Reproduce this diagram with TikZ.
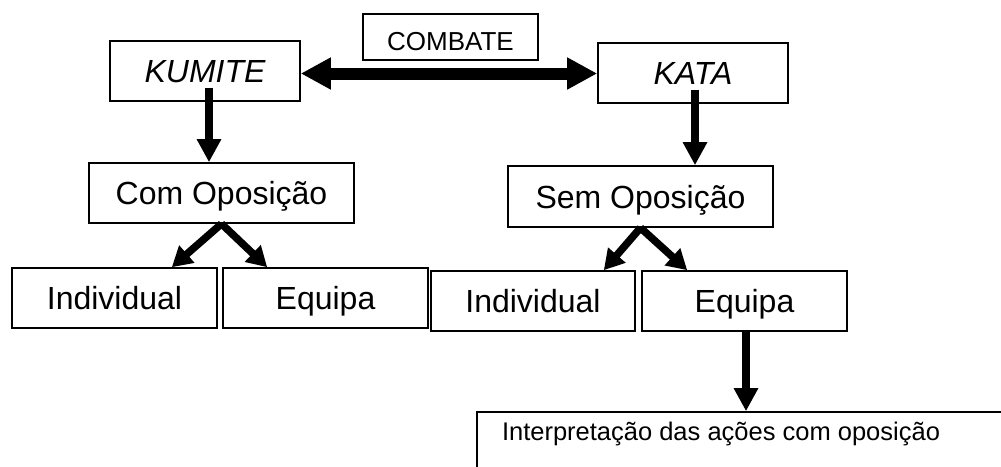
\documentclass[tikz,border=0pt]{standalone}
\usepackage{fontspec}
\setmainfont{Liberation Sans}
\usetikzlibrary{arrows.meta,calc}
\tikzset{
  box/.style={draw=black,line width=1.6pt,fill=white,inner sep=0pt,
    text height=23pt,text depth=0pt,font=\fontsize{32}{38}\selectfont},
  arr/.style={line width=8pt,-{Triangle[length=23pt,width=23pt]}},
  diag/.style={line width=7.5pt,-{Triangle[length=20pt,width=22pt]}},
  dbl/.style={line width=12pt,{Triangle[length=30pt,width=30pt]}-{Triangle[length=30pt,width=30pt]}}
}
\begin{document}
\begin{tikzpicture}[x=1pt,y=-1pt]
\useasboundingbox (0,0) rectangle (1001,466);
\clip (0,0) rectangle (1001,466);
\fill[white] (0,0) rectangle (1001,466);

\node[box,minimum width=175pt,minimum height=46pt,font=\fontsize{26}{31}\selectfont,text height=27.6pt,text depth=0pt] (combate) at (450.5,37) {COMBATE};
\node[box,minimum width=190pt,minimum height=60pt] (kumite) at (205,71) {\itshape KUMITE};
\node[box,minimum width=190pt,minimum height=60pt] (kata) at (693,73) {\itshape KATA};
\node[box,minimum width=265pt,minimum height=60pt] (comop) at (221.5,193) {Com Oposição};
\node[box,minimum width=265pt,minimum height=61pt] (semop) at (640.5,196.5) {Sem Oposição};
\node[box,minimum width=205pt,minimum height=60pt] (ind1) at (114.5,298) {Individual};
\node[box,minimum width=205pt,minimum height=60pt] (equ1) at (325.5,298) {Equipa};
\node[box,minimum width=204pt,minimum height=60pt] (ind2) at (533,301) {Individual};
\node[box,minimum width=205pt,minimum height=60pt] (equ2) at (744.5,301) {Equipa};
\node[box,minimum width=543pt,minimum height=68pt,
  label={[name=interptext,anchor=center,xshift=-27.5pt,yshift=15pt,font=\fontsize{25.5}{30}\selectfont,text height=18.3pt,text depth=0pt,inner sep=0pt]center:Interpretação das ações com oposição}] (interp) at (748.5,446) {};

% double arrow
\coordinate (d1) at ($(kumite.east)+(0,2.5)$);
\draw[dbl] (d1) -- (d1 -| kata.west);

% vertical arrows
\coordinate (k1) at ($(kumite.south)+(4,-14)$);
\draw[arr] (k1) -- (k1 |- comop.north);
\coordinate (k2) at ($(kata.south)+(2,-14)$);
\draw[arr] (k2) -- (k2 |- semop.north);
\coordinate (e2) at ($(equ2.south)+(1.5,0)$);
\draw[arr] (e2) -- (e2 |- interp.north);

% diagonal arrows
\draw[diag] (comop.south) -- ($(ind1.north east)+(-46,0)$);
\draw[diag] (comop.south) -- ($(equ1.north west)+(45,0)$);
\draw[diag] (semop.south) -- ($(ind2.north east)+(-32,0)$);
\draw[diag] (semop.south) -- ($(equ2.north west)+(46,0)$);
\end{tikzpicture}
\end{document}
